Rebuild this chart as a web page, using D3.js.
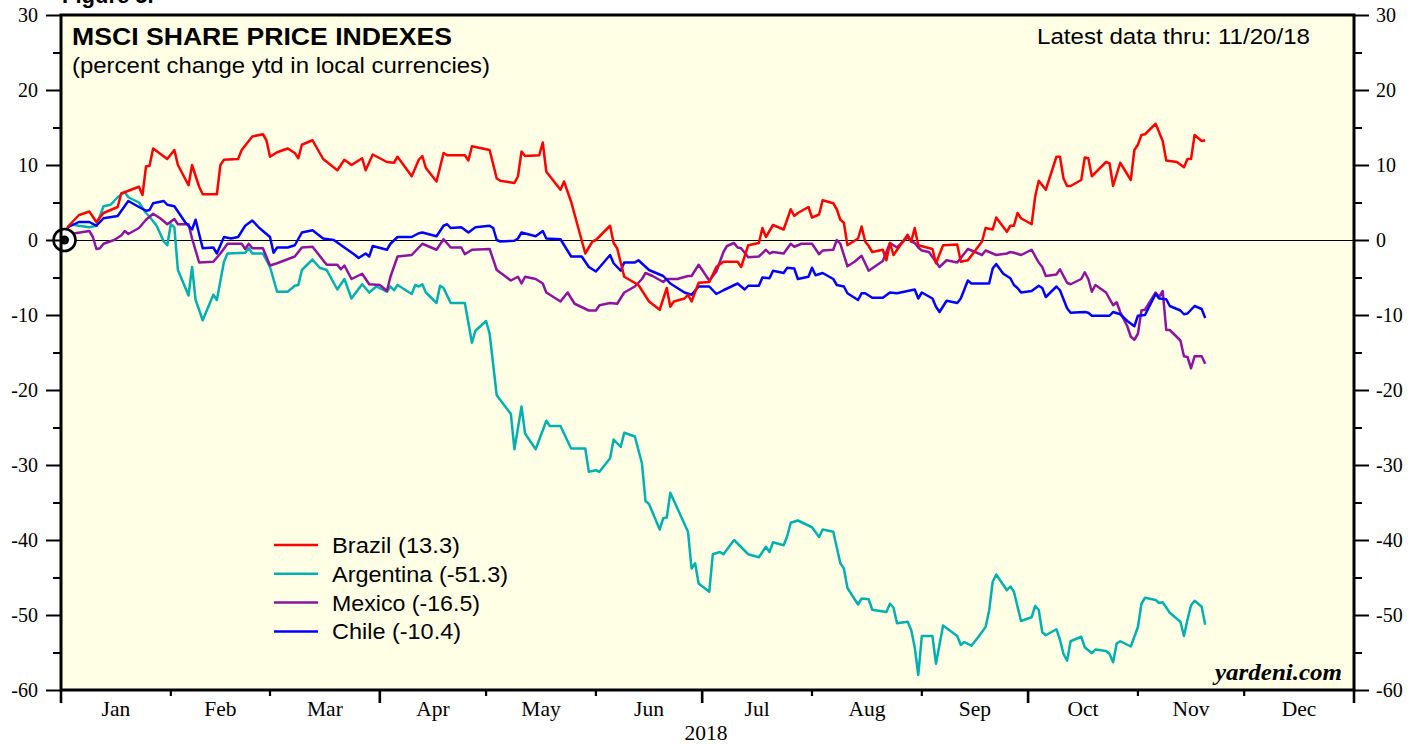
<!DOCTYPE html>
<html><head><meta charset="utf-8">
<script src="https://cdn.jsdelivr.net/npm/d3@7/dist/d3.min.js"></script>
<style>html,body{margin:0;padding:0;background:#fff;}svg{display:block;}</style>
</head><body>
<script>
// ---- data (days since Jan 1 2018, percent change ytd) ----
const seriesNames = ["Brazil (13.3)", "Argentina (-51.3)", "Mexico (-16.5)", "Chile (-10.4)"];
const seriesColors = ["#ff0000", "#00b0b0", "#8e14a0", "#0000ff"];

const brazilDays = [1,2,5,8,10,12,16,17,22,23, 24,25,26,30,32,33,36,37,39,40, 44,45,46,50,51,54,57,58,59,61, 64,66,67,68,71,74,78,80,82,85, 86,88,92,94,95,99,101,102,103,106, 108,109,114,115,116,121,123,124,128,129, 130,131,135,136,137,141,142,144,148,150, 151,155,156,157,159,163,166,169,171,172, 173,176,177,178,180,183,185,187,191,192, 194,197,198,199,201,204,206,207,208,211, 212,214,215,218,219,220,221,222,225,226, 227,228,229,232,233,234,235,239,240,241, 242,246,247,249,253,254,256,260,261,263, 264,267,268,269,270,271,274,275,276,278, 281,282,283,284,285,288,289,290,291,295, 296,297,299,302,303,304,305,306,309,311, 312,315,317,318,319,320,322,323];
const brazilVals = [0,1.8,3.3,3.8,2.4,3.6,4.4,6.2,7.1,6.0, 9.8,9.9,12.2,10.8,12.0,10.0,7.3,10.0,7.1,6.1, 6.1,10.0,10.7,10.8,12.0,13.8,14.1,13.3,11.1,11.7, 12.2,11.6,10.9,12.7,13.3,10.8,9.3,10.7,10.0,10.9, 9.3,11.4,10.4,10.3,11.1,8.5,10.7,11.2,9.6,7.8, 11.6,11.3,11.3,10.6,12.5,12.0,8.2,7.9,7.6,8.5, 11.8,11.2,11.3,13.0,9.1,6.7,7.8,5.1,-1.8,-0.2, 0,1.9,-0.4,-1.1,-4.9,-6.0,-8.2,-9.3,-6.4,-8.9, -8.2,-7.8,-7.3,-8.2,-5.7,-5.6,-3.6,-2.9,-2.9,-3.6, -0.7,-0.4,1.6,0.4,2.0,1.4,4.1,3.2,3.6,4.4, 3.0,3.4,5.3,4.9,4.1,2.7,2.3,-0.7,0.2,1.8, -0.2,-0.8,-1.6,-1.3,-2.7,-0.4,-2.0,0.7,-0.2,1.6, -0.7,-1.2,-3.1,-0.7,-0.6,-2.9,-2.7,-0.2,1.6,1.4, 3.0,1.1,1.9,1.9,3.6,2.9,2.1,5.8,7.9,6.7, 11.1,11.1,8.2,7.2,7.2,8.0,11.0,10.9,8.5,10.4, 10.2,7.2,10.3,8.0,12.0,12.7,14.0,14.1,15.5,13.2, 10.6,10.4,9.7,10.8,10.8,14.0,13.2,13.3];

const argentinaDays = [1,2,3,5,8,10,12,14,16,18, 19,22,24,25,27,29,30,31,32,33, 36,37,38,40,43,44,46,47,52,53, 54,57,59,61,64,66,67,68,71,73, 75,78,80,82,85,87,89,92,93,94, 95,99,100,101,102,103,106,107,108,110, 114,116,117,120,121,123,127,128,130,131, 134,137,138,141,144,148,149,151,152,155, 156,158,159,162,164,165,166,169,170,171, 172,177,178,179,180,183,184,186,187,190, 194,197,199,200,201,204,205,206,208,212, 214,215,218,220,221,222,225,226,228,229, 233,234,235,236,239,240,241,242,243,246, 247,249,253,254,255,257,259,261,262,263, 264,267,268,269,271,274,275,276,277,278, 281,282,283,284,285,288,289,291,292,295, 296,297,298,299,302,303,304,305,306,309, 310,311,313,316,317,318,319,320,322,323];
const argentinaVals = [0,1.8,2.1,1.9,1.7,1.9,4.5,4.7,5.7,6.4, 5.7,5.0,3.6,3.1,1.9,-0.2,-0.7,2.1,1.7,-4.0, -7.4,-3.6,-8.0,-10.7,-7.3,-8.0,-2.9,-1.8,-1.7,-1.1, -1.8,-1.8,-3.6,-6.9,-6.9,-6.1,-6.0,-4.0,-2.6,-3.7, -4.0,-6.6,-5.2,-7.8,-5.9,-7.0,-6.2,-6.9,-6.2,-6.7, -6.0,-7.2,-6.0,-6.2,-5.9,-7.0,-8.4,-6.1,-6.4,-8.4, -8.4,-13.7,-12.1,-10.8,-12.5,-20.7,-23.2,-27.9,-22.2,-25.8, -27.9,-24.1,-24.8,-24.8,-27.8,-27.8,-30.9,-30.7,-30.9,-29.1, -26.6,-27.6,-25.7,-26.2,-29.8,-34.8,-35.2,-38.6,-37.1,-37.0, -33.7,-38.9,-43.8,-43.1,-45.8,-46.9,-41.9,-41.6,-41.9,-40.0, -41.9,-42.3,-40.9,-41.6,-40.3,-40.7,-39.5,-37.7,-37.4,-38.3, -39.6,-38.6,-38.9,-43.1,-43.8,-46.4,-48.6,-47.8,-47.9,-49.3, -49.6,-48.5,-49.0,-51.1,-50.9,-52.0,-54.3,-58.0,-52.8,-52.8, -56.5,-51.4,-52.8,-54.0,-53.6,-54.1,-52.9,-51.6,-49.4,-45.6, -44.6,-46.7,-46.2,-46.9,-50.8,-50.3,-48.8,-49.3,-52.3,-52.7, -51.9,-53.3,-55.2,-56.1,-53.5,-52.9,-54.3,-55.1,-54.6,-54.8, -55.2,-56.3,-53.8,-53.5,-54.2,-52.9,-51.6,-48.5,-47.7,-48.0, -48.4,-48.3,-49.7,-50.9,-52.8,-50.6,-48.7,-48.1,-48.9,-51.3];

const mexicoDays = [1,2,4,8,9,10,11,12,15,17, 18,19,22,24,26,28,30,32,33,36, 37,39,43,45,47,51,52,53,54,57, 59,61,66,68,71,75,78,79,80,82, 85,87,90,92,93,95,99,102,106,108, 110,113,114,116,121,123,125,127,129,130, 131,134,136,137,141,143,145,149,151,152, 155,157,159,162,164,165,167,170,171,174, 177,178,180,183,185,187,188,190,191,192, 194,197,199,200,201,204,206,207,209,212, 214,215,218,219,220,222,224,226,228,232, 234,236,239,240,241,242,243,245,248,250, 253,256,260,261,264,267,268,269,271,274, 276,277,278,281,282,284,285,288,289,290, 291,292,295,297,298,299,301,302,303,304, 305,306,309,310,311,312,313,316,317,318, 319,320,322,323];
const mexicoVals = [0,0.7,0.9,1.2,0.4,-1.2,-1.1,-0.5,0,0.6, 1.2,0.8,1.6,2.7,3.5,2.9,2.1,2.8,2.1,2.1, 0.2,-3.0,-2.9,-1.8,-0.5,-0.5,-1.2,-0.5,-1.1,-1.1, -3.4,-3.1,-2.2,-1.0,-0.9,-3.3,-3.3,-3.9,-3.4,-5.2, -4.5,-5.9,-6.0,-6.8,-4.9,-2.2,-2.0,-0.5,-1.3,0.1, -1.0,-1.0,-1.9,-1.3,-1.2,-4.0,-4.7,-5.4,-4.9,-5.8, -4.9,-5.2,-5.8,-7.0,-8.2,-7.0,-8.5,-9.4,-9.4,-8.7, -8.4,-8.5,-7.0,-6.2,-5.2,-4.4,-4.8,-5.6,-5.2,-5.2, -4.8,-4.8,-3.3,-5.4,-4.2,-1.6,-0.8,-0.4,-1.0,-1.1, -2.3,-2.2,-1.3,-1.8,-1.6,-1.8,-0.5,-0.9,-0.5,-0.5, -1.9,-1.4,-1.3,0,-0.5,-3.5,-2.9,-2.1,-4.1,-2.8, -0.4,-1.0,0.4,-0.2,-0.4,-1.0,-1.4,-1.6,-3.6,-2.7, -3.0,-1.2,-2.0,-1.4,-2.0,-1.8,-1.6,-1.7,-2.0,-1.3, -3.0,-3.6,-4.8,-4.6,-3.9,-5.7,-5.9,-5.2,-4.3,-5.2, -6.9,-6.0,-7.0,-8.7,-8.3,-9.6,-11.5,-12.9,-13.3,-12.5, -9.4,-9.3,-7.0,-7.6,-6.8,-12.0,-12.0,-13.4,-15.5,-15.6, -17.1,-15.5,-15.5,-16.5];

const chileDays = [1,2,5,8,10,12,16,19,22,24, 25,26,29,30,32,35,37,38,40,43, 44,46,48,50,52,54,56,59,60,61, 64,66,68,71,74,77,80,83,84,86, 87,88,92,93,95,99,101,102,106,108, 109,110,113,115,117,121,122,123,124,128, 129,130,134,136,137,141,144,147,149,151, 155,156,158,159,162,163,166,170,172,176, 178,180,183,185,187,191,193,194,197,198, 200,201,204,205,207,208,211,212,213,215, 218,219,221,222,225,226,227,229,232,234, 236,241,242,243,246,247,248,250,253,254, 256,257,262,263,264,266,268,269,270,271, 274,276,277,278,281,282,284,285,289,290, 291,296,297,299,301,303,304,306,309,310, 312,313,316,317,318,320,322,323];
const chileVals = [0,1.7,2.4,2.4,1.9,2.9,3.2,5.2,4.4,3.9, 4.0,4.9,5.2,4.7,4.5,2.4,1.4,2.7,-1.1,-1.0, -1.8,0.4,0.2,0.4,1.9,2.6,1.6,0.4,-1.7,-1.0, -1.0,-0.7,1.0,1.3,0.2,0,-1.0,-2.0,-2.4,-1.8, -2.2,-0.8,-1.3,-0.5,0.4,0.4,0.9,1.0,0.5,1.9, 2.1,1.6,1.7,1.0,1.7,1.9,1.6,0,-0.2,-0.1, 0.2,1.0,0.5,1.2,0.2,0.1,-2.2,-2.2,-3.6,-4.2, -2.0,-3.1,-4.1,-3.0,-3.0,-2.7,-4.0,-4.8,-5.8,-7.0, -7.3,-6.2,-6.2,-7.2,-6.7,-5.8,-6.6,-6.1,-6.1,-5.0, -5.1,-4.1,-4.4,-3.7,-3.8,-5.2,-4.9,-3.7,-4.7,-4.4, -5.2,-6.0,-6.2,-7.1,-8.0,-7.1,-7.1,-7.7,-7.7,-7.0, -7.1,-6.6,-7.8,-7.0,-7.8,-8.9,-9.6,-8.1,-8.4,-7.8, -5.4,-5.8,-5.8,-3.8,-3.2,-4.5,-5.1,-6.0,-6.4,-7.0, -6.8,-6.1,-6.4,-7.6,-6.2,-6.7,-9.1,-9.7,-9.6,-9.7, -10.1,-10.1,-9.6,-9.9,-10.8,-11.5,-10.1,-10.0,-7.2,-7.8, -7.9,-8.8,-9.4,-9.9,-9.8,-8.8,-9.2,-10.4];

const yTicks = [30,20,10,0,-10,-20,-30,-40,-50,-60];
const monthLabels = ["Jan","Feb","Mar","Apr","May","Jun","Jul","Aug","Sep","Oct","Nov","Dec"];
const yearLabel = "2018";

// ---- layout ----
const W = 1419, H = 744;
const L = 61, R = 1354, T = 15, B = 690;
const start = new Date(2018, 0, 1);
const x = d3.scaleTime().domain([start, new Date(2019, 0, 1)]).range([L, R]);
const y = d3.scaleLinear().domain([-60, 30]).range([B, T]);
const toDate = d => d3.timeDay.offset(start, d);
const sans = "Liberation Sans, Arial, Helvetica, sans-serif";
const serif = "Liberation Serif, Times New Roman, serif";

const svg = d3.select("body").append("svg").attr("width", W).attr("height", H);

// cut-off figure caption at very top (as in the reference)
svg.append("text").attr("x", 62).attr("y", 3).attr("font-family", sans)
  .attr("font-weight", "bold").attr("font-size", 22).text("Figure 5.");

svg.append("rect").attr("x", L).attr("y", T).attr("width", R - L).attr("height", B - T).attr("fill", "#ffffe6");

// zero line
svg.append("line").attr("x1", L).attr("x2", R).attr("y1", y(0) + 0.5).attr("y2", y(0) + 0.5)
  .attr("stroke", "#000").attr("stroke-width", 1);

// series
const series = [
  {days: brazilDays, vals: brazilVals},
  {days: argentinaDays, vals: argentinaVals},
  {days: mexicoDays, vals: mexicoVals},
  {days: chileDays, vals: chileVals}
];
const line = d3.line().x(d => x(toDate(d[0]))).y(d => y(d[1]));
[1, 2, 3, 0].forEach(i => {
  const s = series[i];
  const pts = d3.zip(s.days, s.vals);
  svg.append("path").datum(pts).attr("d", line).attr("fill", "none")
    .attr("stroke", seriesColors[i]).attr("stroke-width", 2.5).attr("stroke-linejoin", "round");
});

// start marker
svg.append("circle").attr("cx", x(toDate(1))).attr("cy", y(0)).attr("r", 11).attr("fill", "#fff").attr("stroke", "#000").attr("stroke-width", 2.6);
svg.append("circle").attr("cx", x(toDate(1))).attr("cy", y(0)).attr("r", 4.5).attr("fill", "#000");

// axes
const fmt = d => String(d);  // plain hyphen minus like the reference
const yMinor = d3.range(-55, 30, 10);
const leftAxis = svg.append("g").attr("transform", `translate(${L},0)`)
  .call(d3.axisLeft(y).tickValues(yTicks).tickSize(15).tickPadding(8).tickFormat(fmt));
const rightAxis = svg.append("g").attr("transform", `translate(${R},0)`)
  .call(d3.axisRight(y).tickValues(yTicks).tickSize(15).tickPadding(7).tickFormat(fmt));
[leftAxis, rightAxis].forEach(g => {
  g.select(".domain").remove();
  g.selectAll("line").attr("stroke", "#000").attr("stroke-width", 2);
  g.selectAll("text").attr("font-family", serif).attr("font-size", 20).attr("fill", "#000");
});
svg.append("g").attr("transform", `translate(${L},0)`).call(d3.axisLeft(y).tickValues(yMinor).tickSize(8).tickFormat(""))
  .call(g => { g.select(".domain").remove(); g.selectAll("line").attr("stroke", "#000").attr("stroke-width", 2); });
svg.append("g").attr("transform", `translate(${R},0)`).call(d3.axisRight(y).tickValues(yMinor).tickSize(8).tickFormat(""))
  .call(g => { g.select(".domain").remove(); g.selectAll("line").attr("stroke", "#000").attr("stroke-width", 2); });

// bottom month ticks
const months = d3.timeMonth.range(start, new Date(2019, 0, 2));
const isMajor = d => d.getMonth() % 3 === 0 || d.getFullYear() === 2019;
const bottom = svg.append("g");
bottom.selectAll("line.mt").data(months).join("line")
  .attr("x1", d => x(d)).attr("x2", d => x(d)).attr("y1", B)
  .attr("y2", d => isMajor(d) ? B + 13 : B + 6)
  .attr("stroke", "#000").attr("stroke-width", d => isMajor(d) ? 2.6 : 2.2);
bottom.selectAll("text.ml").data(months.slice(0, 12)).join("text")
  .attr("x", d => x(new Date((+d + +d3.timeMonth.offset(d, 1)) / 2)))
  .attr("y", 716).attr("text-anchor", "middle").attr("font-family", serif).attr("font-size", 21.5)
  .text((d, i) => monthLabels[i]);
svg.append("text").attr("x", 706).attr("y", 740)
  .attr("text-anchor", "middle").attr("font-family", serif).attr("font-size", 21.5).text(yearLabel);

// frame
svg.append("rect").attr("x", L).attr("y", T).attr("width", R - L).attr("height", B - T)
  .attr("fill", "none").attr("stroke", "#000").attr("stroke-width", 3);

// titles
svg.append("text").attr("x", 72).attr("y", 45).attr("font-family", sans).attr("font-weight", "bold")
  .attr("font-size", 24.5).attr("textLength", 380).attr("lengthAdjust", "spacingAndGlyphs").text("MSCI SHARE PRICE INDEXES");
svg.append("text").attr("x", 72).attr("y", 73).attr("font-family", sans).attr("font-size", 21.5)
  .attr("textLength", 418).attr("lengthAdjust", "spacingAndGlyphs").text("(percent change ytd in local currencies)");
svg.append("text").attr("x", 1037).attr("y", 44).attr("font-family", sans)
  .attr("font-size", 21.5).attr("textLength", 273).attr("lengthAdjust", "spacingAndGlyphs").text("Latest data thru: 11/20/18");
svg.append("text").attr("x", 1215).attr("y", 680).attr("font-family", serif)
  .attr("font-weight", "bold").attr("font-style", "italic").attr("font-size", 23.5)
  .attr("textLength", 127).attr("lengthAdjust", "spacingAndGlyphs").text("yardeni.com");

// legend
const legendWidths = [128, 176, 148, 129];
const lg = svg.append("g");
seriesNames.forEach((n, i) => {
  const yy = 545 + i * 28.8;
  lg.append("line").attr("x1", 274).attr("x2", 318).attr("y1", yy).attr("y2", yy)
    .attr("stroke", seriesColors[i]).attr("stroke-width", 2.5);
  lg.append("text").attr("x", 332).attr("y", yy + 8).attr("font-family", sans).attr("font-size", 22)
    .attr("textLength", legendWidths[i]).attr("lengthAdjust", "spacingAndGlyphs").text(n);
});
</script>
</body></html>
